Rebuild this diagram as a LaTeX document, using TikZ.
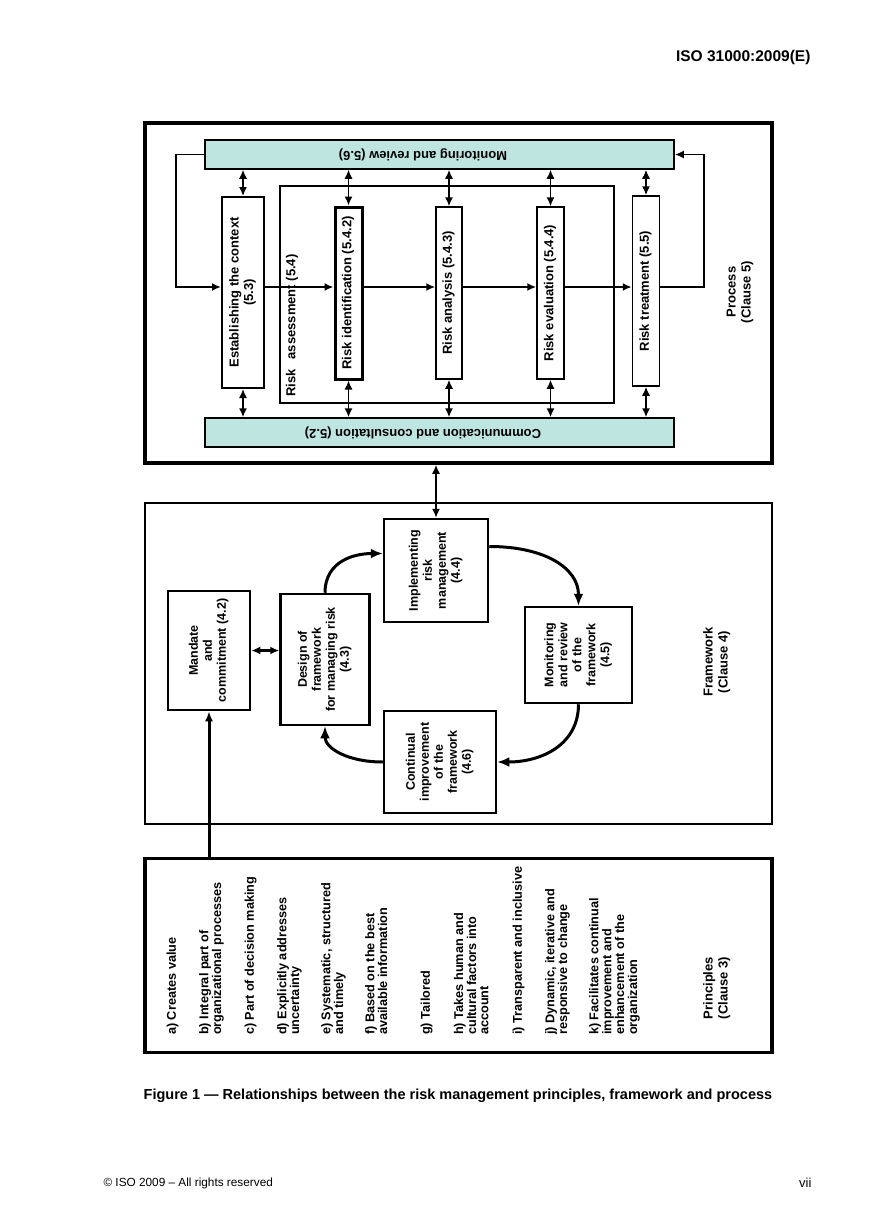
\documentclass[tikz,border=0pt]{standalone}
\usepackage{fontspec}
\setmainfont{Liberation Sans}
\usetikzlibrary{arrows.meta}
\definecolor{isoteal}{RGB}{191,229,225}

% rotated text, lines centred or flush left
\newcommand{\vtext}[1]{\rotatebox{90}{\begin{tabular}{@{}c@{}}#1\end{tabular}}}
\newcommand{\vleft}[1]{\rotatebox{90}{\begin{tabular}{@{}l@{}}#1\end{tabular}}}

\begin{document}
\begin{tikzpicture}[x=1pt, y=-1pt,
	pbox/.style={draw, line width=1.5pt, fill=white, inner sep=0pt, font=\bfseries\fontsize{13}{14.5}\selectfont},
	frbox/.style={draw, line width=2.5pt, fill=white, inner sep=0pt, font=\bfseries\fontsize{12.5}{14}\selectfont},
	bar/.style={draw, line width=1.5pt, fill=isoteal, inner sep=0pt},
	bartext/.style={font=\bfseries\fontsize{13}{15}\selectfont, rotate=180},
	item/.style={anchor=south, inner sep=0pt, font=\bfseries\fontsize{12.7}{12.3}\selectfont},
	flow/.style={line width=1.8pt, arrows=-{Latex[length=9pt,width=8pt]}},
	dbl/.style={line width=1.5pt, arrows={Latex[length=9pt,width=8pt]}-{Latex[length=9pt,width=8pt]}},
	cyc/.style={line width=3pt, arrows=-{Latex[length=12pt,width=10pt]}}]
	\useasboundingbox (0,0) rectangle (868,1228);

	% page header
	\node [anchor=east, font=\bfseries\fontsize{15.5}{18}\selectfont] (head) at (814,57) {ISO 31000:2009(E)};

	% process (clause 5)
	\node [draw, line width=3.5pt, minimum width=627pt, minimum height=340pt] (process) at (458.5,293) {};
	\node [bar, minimum width=469pt, minimum height=29pt] (monitor) at (439.5,154.5) {};
	\node [bartext] (monitortext) at (423,154.5) {Monitoring and review (5.6)};
	\node [bar, minimum width=469pt, minimum height=29pt] (consult) at (439.5,432.5) {};
	\node [bartext] (consulttext) at (423,432.5) {Communication and consultation (5.2)};

	\node [draw, line width=1.5pt, minimum width=334pt, minimum height=217pt] (assess) at (447,294.5) {};
	\node [anchor=south, inner sep=0pt, font=\bfseries\fontsize{13}{14.5}\selectfont] (assesstext) at (292,397) {\rotatebox{90}{Risk\enspace\ assessment (5.4)}};

	\node [pbox, line width=2pt, minimum width=42pt, minimum height=191pt] (context) at (243,292.5) {\vtext{Establishing the context\\(5.3)}};
	\node [pbox, line width=3pt, minimum width=27pt, minimum height=172pt] (riskid) at (348.5,293) {\vtext{Risk identification (5.4.2)}};
	\node [pbox, minimum width=26pt, minimum height=172pt] (analysis) at (449,293) {\vtext{Risk analysis (5.4.3)}};
	\node [pbox, minimum width=27pt, minimum height=172pt] (evaluation) at (550.5,293) {\vtext{Risk evaluation (5.4.4)}};
	\node [pbox, minimum width=27pt, minimum height=190pt] (treatment) at (646,291) {\vtext{Risk treatment (5.5)}};

	\node [font=\bfseries\fontsize{13}{15}\selectfont] (processlabel) at (740,292) {\vtext{Process\\(Clause 5)}};

	% main flow
	\coordinate (flowy) at (0,287);
	\coordinate (loopl) at (176,287);
	\coordinate (loopr) at (704,287);
	\draw [flow] (monitor.west) -| (loopl) -- (context.west |- loopl);
	\draw [flow] (context.east |- flowy) -- (riskid.west |- flowy);
	\draw [flow] (riskid.east |- flowy) -- (analysis.west |- flowy);
	\draw [flow] (analysis.east |- flowy) -- (evaluation.west |- flowy);
	\draw [flow] (evaluation.east |- flowy) -- (treatment.west |- flowy);
	\draw [flow] (treatment.east |- flowy) -- (loopr) |- (monitor.east);

	% links to monitoring and to communication
	\draw [dbl] (monitor.south -| context) -- (context.north);
	\draw [dbl] (context.south) -- (consult.north -| context);
	\draw [dbl] (monitor.south -| riskid) -- (riskid.north);
	\draw [dbl] (riskid.south) -- (consult.north -| riskid);
	\draw [dbl] (monitor.south -| analysis) -- (analysis.north);
	\draw [dbl] (analysis.south) -- (consult.north -| analysis);
	\draw [dbl] (monitor.south -| evaluation) -- (evaluation.north);
	\draw [dbl] (evaluation.south) -- (consult.north -| evaluation);
	\draw [dbl] (monitor.south -| treatment) -- (treatment.north);
	\draw [dbl] (treatment.south) -- (consult.north -| treatment);

	% framework (clause 4)
	\node [draw, line width=2pt, minimum width=627pt, minimum height=321pt] (framework) at (458.5,663.5) {};
	\node [frbox, minimum width=82pt, minimum height=119pt] (mandate) at (209,650.5) {\vtext{Mandate\\and\\commitment (4.2)}};
	\node [frbox, minimum width=89pt, minimum height=131pt] (design) at (325,659.5) {\vtext{Design of\\framework\\for managing risk\\(4.3)}};
	\node [frbox, minimum width=104pt, minimum height=103pt] (implement) at (436,570.5) {\vtext{Implementing\\risk\\management\\(4.4)}};
	\node [frbox, minimum width=107pt, minimum height=96pt] (review) at (578.5,655) {\vtext{Monitoring\\and review\\of the\\framework\\(4.5)}};
	\node [frbox, minimum width=112pt, minimum height=102pt] (improve) at (440,762) {\vtext{Continual\\improvement\\of the\\framework\\(4.6)}};
	\node [font=\bfseries\fontsize{13}{15}\selectfont] (frameworklabel) at (717,662) {\vtext{Framework\\(Clause 4)}};

	\draw [dbl, line width=3pt] (mandate.east) -- (design.west |- mandate.east);
	\draw [cyc] (design.north) .. controls +(0,-32) and +(-28,0) .. ([yshift=17pt]implement.west);
	\draw [cyc] ([yshift=24pt]implement.east) .. controls +(55,0) and +(0,-38) .. (review.north);
	\draw [cyc] (review.south) .. controls +(0,40) and +(45,0) .. (improve.east);
	\draw [cyc] (improve.west) .. controls +(-35,0) and +(0,22) .. (design.south);

	% process <-> framework
	\draw [dbl] (implement.north) -- (implement.north |- process.south);

	% principles (clause 3)
	\node [draw, line width=3.5pt, minimum width=627pt, minimum height=194pt] (principles) at (458.5,955.5) {};
	\draw [line width=3pt, arrows=-{Latex[length=10pt,width=8pt]}] (principles.north -| mandate) -- (mandate.south);

	\node [item] (pa) at (173,1035) {\vleft{a) Creates value}};
	\node [item] (pb) at (212,1035) {\vleft{b) Integral part of\\organizational processes}};
	\node [item] (pc) at (251,1035) {\vleft{c) Part of decision making}};
	\node [item] (pd) at (290,1035) {\vleft{d) Explicitly addresses\\uncertainty}};
	\node [item] (pe) at (334,1035) {\vleft{e) Systematic, structured\\and timely}};
	\node [item] (pf) at (378,1035) {\vleft{f) Based on the best\\available information}};
	\node [item] (pg) at (427,1035) {\vleft{g) Tailored}};
	\node [item] (ph) at (473,1035) {\vleft{h) Takes human and\\cultural factors into\\account}};
	\node [item] (pi) at (519,1035) {\vleft{i) Transparent and inclusive}};
	\node [item] (pj) at (558,1035) {\vleft{j) Dynamic, iterative and\\responsive to change}};
	\node [item] (pk) at (615,1035) {\vleft{k) Facilitates continual\\improvement and\\enhancement of the\\organization}};
	\node [font=\bfseries\fontsize{13}{15}\selectfont] (principleslabel) at (717,988) {\vtext{Principles\\(Clause 3)}};

	% caption and footer
	\node [font=\bfseries\fontsize{14.5}{16}\selectfont] (caption) at (458,1096) {Figure 1 — Relationships between the risk management principles, framework and process};
	\node [anchor=west, font=\fontsize{11.8}{14}\selectfont] (copyright) at (100,1183) {© ISO 2009 – All rights reserved};
	\node [anchor=east, font=\fontsize{13}{15}\selectfont] (pageno) at (815,1183) {vii};
\end{tikzpicture}
\end{document}
